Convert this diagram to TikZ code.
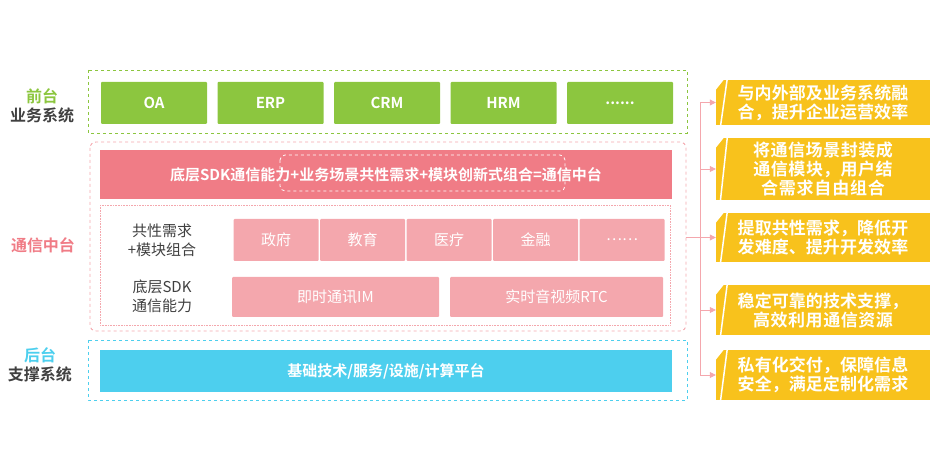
\documentclass[tikz,border=0pt]{standalone}
\usepackage{fontspec}
\setmainfont{Noto Sans CJK SC}
\newfontfamily\cjkb{Noto Sans CJK SC Bold}
\XeTeXlinebreaklocale "zh"
\XeTeXlinebreakskip = 0pt plus 1pt
\usetikzlibrary{positioning,arrows.meta}
\definecolor{cgreen}{HTML}{8CC63F}
\definecolor{cpink}{HTML}{F07C86}
\definecolor{cpinkl}{HTML}{F4A7AD}
\definecolor{ccyan}{HTML}{4DCFEE}
\definecolor{cyel}{HTML}{F8C21C}
\definecolor{cgray}{HTML}{404040}
\tikzset{
  blk/.style={inner sep=0pt,text=white,font=\cjkb\fontsize{15}{17}\selectfont},
  sub/.style={fill=cpinkl,rounded corners=1pt,inner sep=0pt,text=white,font=\fontsize{15}{17}\selectfont},
  side/.style={font=\cjkb\fontsize{16}{18}\selectfont,align=center},
  note/.style={fill=cyel,inner sep=0pt,minimum width=214pt,text width=176pt,align=center,text=white,
    font=\cjkb\fontsize{17}{19}\selectfont},
  link/.style={draw=cpinkl,line width=0.8pt},
}
\begin{document}
\begin{tikzpicture}[x=1pt,y=-1pt]
\useasboundingbox (0,0) rectangle (940,470);
% frames
\draw[cgreen,dashed,line width=0.9pt] (88,70) rectangle (687,133);
\draw[cpinkl,dashed,line width=0.9pt,rounded corners=6pt] (90,142) rectangle (686,331);
\draw[ccyan,dashed,line width=0.9pt] (88,340) rectangle (687,400);
\draw[cpinkl,densely dotted,line width=0.6pt] (100,205) rectangle (670,325);
% front layer
\foreach \i/\lb in {0/OA,1/ERP,2/CRM,3/HRM,4/{......}}{
  \node[blk,fill=cgreen,rounded corners=1pt,minimum width=106pt,minimum height=42pt] (f\i) at (154+\i*116.5,103) {\lb};}
\node[side,text=cgreen] (lf) at (42,96) {前台};
\node[side,text=cgray,below=-3pt of lf] (lf2) {业务系统};
% middle layer
\node[blk,fill=cpink,minimum width=572pt,minimum height=49pt] (bar) at (386,174.5) {底层SDK通信能力+业务场景共性需求+模块创新式组合=通信中台};
\draw[white,dashed,line width=0.8pt,rounded corners=5pt] (280,155) rectangle (565,191);
\foreach \i/\lb in {0/政府,1/教育,2/医疗,3/金融,4/{……}}{
  \node[sub,minimum width=85pt,minimum height=42pt] (s\i) at (276+\i*86.5,240) {\lb};}
\node[sub,minimum width=207pt,minimum height=40pt] (im) at (335.5,297) {即时通讯IM};
\node[sub,minimum width=213pt,minimum height=40pt] (rtc) at (556.5,297) {实时音视频RTC};
\node[font=\fontsize{15}{19}\selectfont,text=cgray,align=center] (lm1) at (162,240) {共性需求\\+模块组合};
\node[font=\fontsize{15}{19}\selectfont,text=cgray,align=center] (lm2) at (162,296) {底层SDK\\通信能力};
\node[side,text=cpink] (lm) at (43,245) {通信中台};
% back layer
\node[blk,fill=ccyan,minimum width=572pt,minimum height=42pt] (base) at (386,371) {基础技术/服务/设施/计算平台};
\node[side,text=ccyan] (lb) at (40,355) {后台};
\node[side,text=cgray,below=-3pt of lb] (lb2) {支撑系统};
% notes
\foreach \i/\y/\h/\lb in {1/102.5/45/{与内外部及业务系统融合，提升企业运营效率},
  2/169/62/{将通信场景封装成通信模块，用户结合需求自由组合},
  3/237.5/49/{提取共性需求，降低开发难度、提升开发效率},
  4/310/50/{稳定可靠的技术支撑，高效利用通信资源},
  5/375/50/{私有化交付，保障信息安全，满足定制化需求}}{
  \node[note,minimum height=\h pt] (n\i) at (823,\y) {\lb};
  \draw[white,line width=1.5pt] ([xshift=4pt,yshift=-6pt]n\i.south west) -- ([xshift=12pt,yshift=5pt]n\i.north west);
  \fill[white] (n\i.north west) -- ++(8,0) -- ++(-8,10) -- cycle;}
\coordinate (tr) at (700,237);
\draw[link] (686,237) -- (tr);
\draw[link] (tr|-n1.west) -- (tr|-n5.west);
\foreach \i in {1,...,5}{\draw[link,-{Triangle[length=6pt,width=6pt]}] (tr|-n\i.west) -- (n\i.west);}
\end{tikzpicture}
\end{document}
